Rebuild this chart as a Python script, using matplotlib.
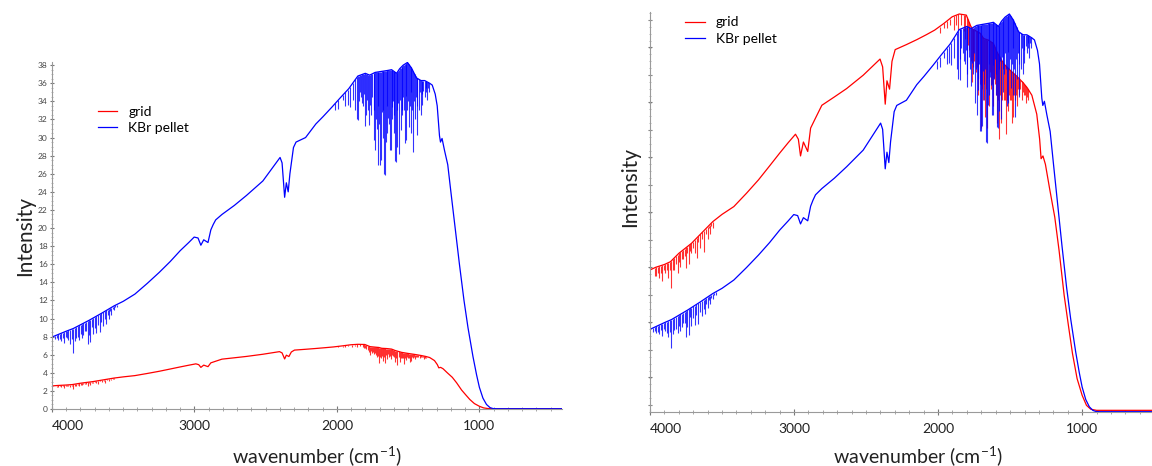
import numpy as np
import matplotlib
matplotlib.use('Agg')
import matplotlib.pyplot as plt
from matplotlib.ticker import MultipleLocator, FixedLocator

plt.rcParams['font.family'] = ['Lato', 'DejaVu Sans']
plt.rcParams['mathtext.fontset'] = 'custom'
plt.rcParams['mathtext.rm'] = 'Lato'
plt.rcParams['mathtext.it'] = 'Lato:italic'

# grid spectrum (smooth part), wavenumber in cm-1
grid_wn = np.array([4010, 3993, 3960, 3900, 3858, 3800, 3712, 3640, 3564, 3500, 3418, 3330,
                    3247, 3170, 3100, 3040, 2990, 2970, 2955, 2935, 2905, 2885, 2851, 2807,
                    2720, 2635, 2520, 2403, 2385, 2367, 2355, 2337, 2320, 2298, 2220, 2147,
                    2080, 2024, 1960, 1902, 1853, 1804, 1767, 1740, 1706, 1685, 1650, 1616,
                    1592, 1546, 1500, 1453, 1408, 1380, 1349, 1315, 1295, 1285, 1272, 1255,
                    1225, 1190, 1160, 1125, 1095, 1067, 1035, 1000, 970, 940, 900, 400])
grid_int = np.array([2.55, 2.56, 2.60, 2.65, 2.70, 2.85, 3.03, 3.22, 3.42, 3.55, 3.69, 3.93,
                     4.17, 4.42, 4.65, 4.84, 4.99, 4.90, 4.60, 4.85, 4.68, 5.10, 5.28, 5.51,
                     5.66, 5.81, 6.05, 6.34, 6.20, 5.53, 5.95, 5.80, 6.30, 6.51, 6.60, 6.69,
                     6.78, 6.86, 6.98, 7.10, 7.15, 7.13, 6.89, 6.85, 6.80, 6.71, 6.68, 6.62,
                     6.47, 6.26, 6.14, 6.03, 5.91, 5.82, 5.69, 5.35, 4.90, 4.55, 4.60, 4.45,
                     4.00, 3.50, 2.90, 2.10, 1.55, 1.05, 0.60, 0.30, 0.12, 0.05, 0.03, 0.03])
# grid absorption lines (position, bottom value)
grid_dip_wn = np.array([3955, 3935, 3915, 3895, 3875, 3852, 3830, 3808, 3790, 3770, 3748, 3731,
                        3712, 3690, 3675, 3650, 3626, 3600, 3585, 3565,
                        1990, 1960, 1940, 1920, 1893, 1875, 1859, 1840, 1820, 1800, 1785, 1766,
                        1755, 1740, 1720, 1704, 1690, 1675, 1663, 1650, 1635, 1620, 1605, 1590,
                        1575, 1560, 1545, 1530, 1515, 1500, 1487, 1477, 1465, 1450, 1435, 1420,
                        1405, 1390, 1375])
grid_dip_min = np.array([2.45, 2.40, 2.35, 2.50, 2.40, 2.22, 2.55, 2.50, 2.60, 2.75, 2.58, 2.65,
                         2.85, 2.85, 2.76, 2.95, 2.88, 3.10, 3.20, 3.30,
                         6.80, 6.90, 6.90, 6.95, 6.87, 6.95, 6.87, 6.95, 6.85, 6.70, 6.50, 5.93,
                         6.20, 6.10, 5.70, 5.10, 5.60, 5.30, 5.10, 5.50, 5.80, 5.50, 5.90, 5.20,
                         4.90, 5.20, 5.60, 5.00, 5.40, 5.60, 5.20, 5.30, 5.60, 5.50, 5.70, 5.60,
                         5.70, 5.55, 5.60])
# weaker grid lines
grid_weak_wn = np.array([3965, 3945, 3925, 3905, 3885, 3863, 3842, 3819, 3799, 3780, 3759, 3740,
                         3720, 3700, 3665, 3638, 3612, 3592, 3575,
                         1812, 1793, 1775, 1760, 1748, 1733, 1726, 1712, 1697, 1683, 1670, 1657,
                         1642, 1628, 1612, 1598, 1582, 1567, 1553, 1538, 1522, 1508, 1493, 1471,
                         1458, 1442, 1428, 1412, 1398, 1382])
grid_weak_min = np.array([2.45, 2.50, 2.50, 2.55, 2.55, 2.55, 2.55, 2.65, 2.70, 2.75, 2.80, 2.85,
                          2.90, 2.95, 3.05, 3.10, 3.20, 3.30, 3.35,
                          6.70, 6.60, 6.30, 6.40, 6.30, 6.20, 6.00, 5.90, 5.80, 5.90, 5.80, 6.00,
                          6.10, 5.90, 6.00, 5.70, 5.60, 5.70, 5.60, 5.60, 5.60, 5.70, 5.60, 5.70,
                          5.70, 5.80, 5.80, 5.75, 5.70, 5.65])

# KBr pellet spectrum (smooth part)
kbr_wn = np.array([4010, 3993, 3900, 3850, 3740, 3650, 3564, 3500, 3418, 3330, 3247, 3170,
                   3100, 3040, 3002, 2975, 2955, 2935, 2905, 2885, 2868, 2851, 2807, 2720,
                   2635, 2520, 2399, 2385, 2367, 2355, 2342, 2330, 2305, 2287, 2220, 2148,
                   2098, 2033, 1976, 1917, 1853, 1801, 1770, 1732, 1692, 1650, 1616, 1581,
                   1560, 1535, 1505, 1477, 1442, 1410, 1384, 1349, 1331, 1310, 1296, 1280,
                   1273, 1262, 1245, 1222, 1200, 1170, 1140, 1108, 1080, 1045, 1020, 1000,
                   975, 950, 925, 905, 880, 400])
kbr_int = np.array([7.95, 8.0, 8.6, 8.9, 9.8, 10.6, 11.4, 11.9, 12.7, 13.9, 15.1, 16.3,
                    17.5, 18.4, 19.0, 18.9, 18.1, 18.7, 18.4, 19.8, 20.4, 20.9, 21.5, 22.5,
                    23.6, 25.2, 27.8, 27.2, 23.4, 25.0, 24.0, 26.0, 28.9, 29.5, 30.0, 31.5,
                    32.3, 33.4, 34.4, 35.4, 36.8, 37.1, 36.9, 37.2, 37.3, 37.4, 37.5, 37.1,
                    37.6, 38.0, 38.3, 37.7, 36.6, 36.3, 36.3, 36.0, 35.8, 34.8, 33.5, 30.2,
                    29.5, 29.9, 28.6, 27.0, 24.0, 20.0, 16.0, 12.0, 9.0, 5.8, 3.8, 2.4,
                    1.2, 0.5, 0.15, 0.05, 0.03, 0.03])
kbr_dip_wn = np.array([3980, 3955, 3935, 3915, 3895, 3875, 3852, 3830, 3808, 3790, 3770, 3748,
                       3731, 3712, 3690, 3665, 3640, 3618, 3600, 3585, 3565, 3545,
                       2010, 1990, 1960, 1940, 1925, 1910, 1890, 1870, 1859, 1851, 1830, 1815,
                       1801, 1797, 1780, 1774, 1760, 1743, 1732, 1720, 1709, 1700, 1692, 1680,
                       1667, 1662, 1655, 1646, 1635, 1628, 1622, 1610, 1600, 1592, 1587, 1575,
                       1564, 1552, 1540, 1523, 1518, 1505, 1495, 1477, 1467, 1455, 1441, 1425,
                       1412, 1401, 1385, 1373, 1366, 1355])
kbr_dip_min = np.array([7.7, 7.6, 7.5, 7.3, 7.8, 7.2, 6.2, 7.9, 7.6, 7.8, 8.6, 7.2,
                        7.4, 8.3, 8.4, 8.5, 9.2, 9.4, 10.0, 10.4, 10.9, 11.3,
                        33.0, 33.2, 34.1, 33.5, 33.6, 33.4, 34.1, 33.0, 32.0, 31.9, 34.5, 33.5,
                        31.3, 32.5, 33.0, 31.4, 32.5, 29.7, 28.6, 31.0, 27.0, 27.0, 27.5, 30.0,
                        26.0, 25.9, 29.5, 30.5, 31.5, 28.6, 28.6, 32.0, 30.5, 27.4, 27.3, 29.0,
                        28.2, 30.8, 32.5, 29.4, 29.7, 33.0, 31.2, 30.5, 28.4, 32.0, 30.3, 33.0,
                        32.5, 33.6, 34.5, 35.0, 34.1, 35.0])
# weaker KBr lines
kbr_weak_wn = np.array([3965, 3945, 3925, 3905, 3885, 3863, 3842, 3819, 3799, 3780, 3759, 3740,
                        3720, 3700, 3678, 3653, 3628, 3608, 3592, 3575, 3555,
                        1845, 1838, 1822, 1808, 1788, 1767, 1752, 1737, 1726, 1714, 1704, 1686,
                        1673, 1650, 1640, 1616, 1605, 1596, 1580, 1569, 1557, 1546, 1534, 1528,
                        1512, 1500, 1488, 1482, 1472, 1460, 1447, 1435, 1418, 1406, 1393, 1378,
                        1360])
kbr_weak_min = np.array([7.8, 7.7, 7.9, 8.0, 7.6, 7.7, 7.5, 8.0, 8.3, 8.2, 8.6, 8.2,
                         9.1, 9.0, 9.3, 9.6, 9.9, 10.4, 10.8, 11.0, 11.3,
                         34.0, 35.0, 33.8, 34.8, 34.2, 33.6, 34.5, 33.0, 32.0, 33.5, 31.5, 32.8,
                         33.0, 33.5, 32.2, 33.4, 34.0, 32.5, 33.0, 33.8, 34.2, 33.0, 34.5, 33.0,
                         34.6, 34.0, 33.5, 35.0, 33.0, 34.0, 34.5, 33.5, 35.0, 34.8, 35.2, 35.5,
                         35.5])


def draw(ax, norm):
    series = [('grid', 'red', grid_wn, grid_int, grid_dip_wn, grid_dip_min, grid_weak_wn, grid_weak_min),
              ('KBr pellet', 'blue', kbr_wn, kbr_int, kbr_dip_wn, kbr_dip_min, kbr_weak_wn, kbr_weak_min)]
    for label, col, wn, val, dwn, dmin, wwn, wmin in series:
        s = val.max() if norm else 1.0
        ax.plot(wn, val / s, color=col, lw=0.9, label=label)
        top = np.interp(dwn, wn[::-1], val[::-1]) / s
        ax.vlines(dwn, dmin / s, top, color=col, lw=0.8, alpha=0.8)
        top = np.interp(wwn, wn[::-1], val[::-1]) / s
        ax.vlines(wwn, wmin / s, top, color=col, lw=0.8, alpha=0.8)

    for side in ['top', 'right']:
        ax.spines[side].set_visible(False)
    for side in ['left', 'bottom']:
        ax.spines[side].set_color('#9a9a9a')
        ax.spines[side].set_linewidth(0.8)
    ax.xaxis.set_major_locator(FixedLocator([4000, 3000, 2000, 1000]))
    ax.xaxis.set_minor_locator(MultipleLocator(100))
    ax.tick_params(axis='x', which='major', direction='inout', length=4, color='#777',
                   labelsize=10, pad=6, labelcolor='#222')
    ax.tick_params(axis='x', which='minor', direction='inout', length=2.5, color='#999')
    labs = ax.get_xticklabels()
    labs[0].set_horizontalalignment('left')

    ax.set_xlabel('wavenumber (cm$^{-1}$)', fontsize=14, color='#222')
    ax.set_ylabel('Intensity', fontsize=15, color='#222')
    leg = ax.legend(loc='upper left', frameon=False, fontsize=10, handlelength=1.4,
                    handletextpad=0.8, labelspacing=0.3)
    return leg


fig = plt.figure(figsize=(11.52, 4.66), dpi=100)
ax1 = fig.add_axes([52 / 1152, 57 / 466, 510 / 1152, 347 / 466])
ax2 = fig.add_axes([650 / 1152, 54 / 466, 502 / 1152, 400 / 466])

draw(ax1, False)
ax1.set_xlim(4000, 420)
ax1.set_ylim(0, 38.35)
ax1.yaxis.set_major_locator(MultipleLocator(2))
ax1.yaxis.set_minor_locator(MultipleLocator(0.5))
ax1.tick_params(axis='y', which='major', direction='inout', length=3, color='#777',
                labelsize=6, pad=1.5, labelcolor='#444')
ax1.tick_params(axis='y', which='minor', direction='inout', length=1.5, color='#aaa')
ax1.xaxis.set_label_coords(0.52, -0.1)
ax1.yaxis.set_label_coords(-0.033, 0.5)
ax1.get_legend().set_bbox_to_anchor((0.065, 0.91))

draw(ax2, True)
ax2.set_xlim(4000, 515)
ax2.set_ylim(0, 1.005)
ax2.yaxis.set_major_locator(FixedLocator(0.0176 + 0.0691 * np.arange(15)))
ax2.yaxis.set_minor_locator(MultipleLocator(0.0691 / 4))
ax2.tick_params(axis='y', which='major', direction='inout', length=3, color='#777',
                labelleft=False)
ax2.tick_params(axis='y', which='minor', direction='inout', length=1.5, color='#aaa')
ax2.xaxis.set_label_coords(0.534, -0.08)
ax2.yaxis.set_label_coords(-0.02, 0.5625)
ax2.get_legend().set_bbox_to_anchor((0.045, 1.02))

fig.savefig('out.png', dpi=100)
